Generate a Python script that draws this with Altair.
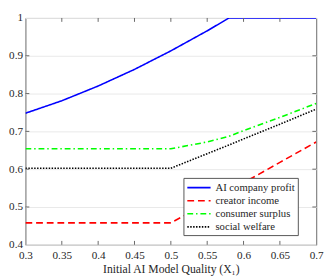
import altair as alt
import pandas as pd

x_vals = [0.30, 0.35, 0.40, 0.45, 0.50, 0.55, 0.58, 0.60, 0.65, 0.70]
ai_profit = [0.748, 0.781, 0.820, 0.864, 0.913, 0.966, 1.000, 1.000, 1.000, 1.000]
creator_income = [0.458, 0.458, 0.458, 0.458, 0.458, 0.510, 0.541, 0.564, 0.618, 0.672]
consumer_surplus = [0.654, 0.654, 0.654, 0.654, 0.654, 0.672, 0.687, 0.702, 0.737, 0.774]
social_welfare = [0.6025, 0.6025, 0.6025, 0.6025, 0.6025, 0.641, 0.664, 0.680, 0.719, 0.759]

series_names = ["AI company profit", "creator income", "consumer surplus", "social welfare"]
series_colors = ["#0000FF", "#FF0000", "#00FF00", "#000000"]
series_dashes = [[1, 0], [7, 4], [6, 3, 1.5, 3], [1.5, 1.5]]

x_ticks = [0.3, 0.35, 0.4, 0.45, 0.5, 0.55, 0.6, 0.65, 0.7]
y_ticks = [0.4, 0.5, 0.6, 0.7, 0.8, 0.9, 1.0]

rows = []
for name, vals in zip(series_names, [ai_profit, creator_income, consumer_surplus, social_welfare]):
    for xv, yv in zip(x_vals, vals):
        rows.append({"x": xv, "y": yv, "series": name})
df = pd.DataFrame(rows)

W, H = 300, 234
FONT = "Liberation Serif"
TL = 4
XTITLE = "Initial AI Model Quality (X₁)"

xs = alt.Scale(domain=[0.3, 0.7], nice=False, zero=False)
ys = alt.Scale(domain=[0.4, 1.0], nice=False, zero=False)
x_axis = alt.Axis(values=x_ticks, format="~g", grid=False, domain=False,
                  ticks=False, labelFlush=False, labelPadding=5)
y_axis = alt.Axis(values=y_ticks, format="~g", grid=True, gridColor="#e8e8e8",
                  domain=False, ticks=False, labelPadding=3)

lines = alt.Chart(df).mark_line(strokeWidth=1.6, clip=True).encode(
    x=alt.X("x:Q", scale=xs, title=XTITLE, axis=x_axis),
    y=alt.Y("y:Q", scale=ys, title=None, axis=y_axis),
    color=alt.Color("series:N", scale=alt.Scale(domain=series_names, range=series_colors),
                    legend=alt.Legend(title=None)),
    strokeDash=alt.StrokeDash("series:N", scale=alt.Scale(domain=series_names, range=series_dashes),
                              legend=alt.Legend(title=None)),
)

xt = pd.DataFrame({"x": x_ticks[1:-1]})
yt = pd.DataFrame({"y": y_ticks[1:-1]})
tick_style = dict(color="#666666", strokeWidth=1)

top_ticks = alt.Chart(xt).mark_rule(**tick_style).encode(
    x=alt.X("x:Q", scale=xs, title=XTITLE, axis=x_axis), y=alt.value(0), y2=alt.value(TL))
bot_ticks = alt.Chart(xt).mark_rule(**tick_style).encode(
    x=alt.X("x:Q", scale=xs, title=XTITLE, axis=x_axis), y=alt.value(H), y2=alt.value(H - TL))
left_ticks = alt.Chart(yt).mark_rule(**tick_style).encode(
    y=alt.Y("y:Q", scale=ys, title=None, axis=y_axis), x=alt.value(0), x2=alt.value(TL))
right_ticks = alt.Chart(yt).mark_rule(**tick_style).encode(
    y=alt.Y("y:Q", scale=ys, title=None, axis=y_axis), x=alt.value(W), x2=alt.value(W - TL))

chart = alt.layer(lines, top_ticks, bot_ticks, left_ticks, right_ticks).properties(
    width=W, height=H, padding={"left": 0, "top": 0, "right": 0, "bottom": 0}
).configure_view(
    stroke="#666666", strokeWidth=1
).configure_axis(
    labelFont=FONT, titleFont=FONT, labelFontSize=11.5, titleFontSize=12,
    labelColor="#262626", titleColor="#262626", titleFontWeight="normal", titlePadding=3
).configure_legend(
    orient="none", legendX=163, legendY=165, fillColor="white", strokeColor="#555555",
    padding=3, symbolType="M-1,0H3", symbolSize=144, symbolStrokeWidth=1.6,
    labelFont=FONT, labelFontSize=11, labelColor="#262626", rowPadding=1.5, labelOffset=16,
    cornerRadius=0
)

chart.save("out.html", embed_options={"renderer": "svg", "actions": False})
